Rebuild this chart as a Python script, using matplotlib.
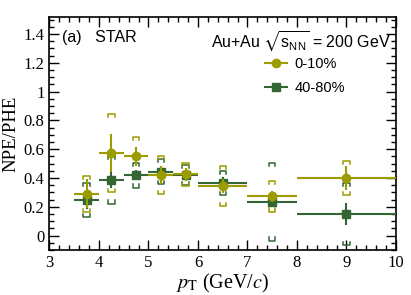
import numpy as np
import matplotlib
matplotlib.use("Agg")
import matplotlib.pyplot as plt
from matplotlib.lines import Line2D
from matplotlib.ticker import MultipleLocator

# Data
pt = [3.75, 4.25, 4.75, 5.25, 5.75, 6.5, 7.5, 9.0]
pt_halfwidth = [0.25, 0.25, 0.25, 0.25, 0.25, 0.5, 0.5, 1.0]

central_0_10 = [0.29, 0.575, 0.55, 0.42, 0.425, 0.345, 0.272, 0.40]
stat_0_10 = [0.10, 0.13, 0.065, 0.065, 0.045, 0.05, 0.04, 0.08]
sys_0_10 = [0.125, 0.27, 0.135, 0.133, 0.08, 0.14, 0.105, 0.12]

central_40_80 = [0.248, 0.387, 0.42, 0.445, 0.42, 0.368, 0.236, 0.15]
stat_40_80 = [0.06, 0.055, 0.035, 0.04, 0.03, 0.04, 0.04, 0.075]
sys_40_80 = [0.12, 0.165, 0.087, 0.088, 0.07, 0.084, 0.27, 0.215]

gold = '#9c9c00'
green = '#336633'

plt.rcParams['mathtext.fontset'] = 'stix'

fig = plt.figure(figsize=(4.11, 2.95), dpi=100)
ax = fig.add_axes([0.1204, 0.1525, 0.8431, 0.7909])


def draw_sys(x, y, s, color):
    # bracket-style systematic error boxes
    w = 0.065
    d = 0.022
    for xi, yi, si in zip(x, y, s):
        top = yi + si
        bot = yi - si
        ax.plot([xi - w, xi - w, xi + w, xi + w], [top - d, top, top, top - d],
                color=color, lw=1.1, zorder=2)
        ax.plot([xi - w, xi - w, xi + w, xi + w], [bot + d, bot, bot, bot + d],
                color=color, lw=1.1, zorder=2)


# 40-80% (drawn first, below)
draw_sys(pt, central_40_80, sys_40_80, green)
ax.errorbar(pt, central_40_80, xerr=pt_halfwidth, yerr=stat_40_80, fmt='s',
            color=green, ms=6, lw=1.5, capsize=0, zorder=3)

# 0-10%
draw_sys(pt, central_0_10, sys_0_10, gold)
ax.errorbar(pt, central_0_10, xerr=pt_halfwidth, yerr=stat_0_10, fmt='o',
            color=gold, ms=6, lw=1.5, capsize=0, zorder=4)

ax.set_xlim(3, 10)
ax.set_ylim(-0.1, 1.52)
ax.xaxis.set_major_locator(MultipleLocator(1))
ax.xaxis.set_minor_locator(MultipleLocator(0.2))
ax.yaxis.set_major_locator(MultipleLocator(0.2))
ax.yaxis.set_minor_locator(MultipleLocator(0.05))
ax.tick_params(which='both', direction='in', top=True, right=True)
ax.tick_params(which='major', length=7, width=1)
ax.tick_params(which='minor', length=3.5, width=1)
for sp in ax.spines.values():
    sp.set_linewidth(1.2)

ytick_vals = [0, 0.2, 0.4, 0.6, 0.8, 1.0, 1.2, 1.4]
ytick_labels = ['0', '0.2', '0.4', '0.6', '0.8', '1', '1.2', '1.4']
ax.set_yticks(ytick_vals)
ax.set_yticklabels(ytick_labels)
for lab in ax.get_xticklabels() + ax.get_yticklabels():
    lab.set_family('Liberation Serif')
    lab.set_fontsize(12)

ax.set_xlabel(r'$p_{\mathrm{T}}$ (GeV/$c$)', family='Liberation Serif', fontsize=14.5,
              labelpad=1)
ax.set_ylabel('NPE/PHE', family='Liberation Serif', fontsize=13.5, labelpad=3)

ax.text(0.035, 0.945, '(a)   STAR', transform=ax.transAxes, ha='left', va='top',
        family='Liberation Sans', fontsize=11.5)
ax.text(0.985, 0.945, r'Au+Au $\sqrt{\mathregular{s_{NN}}}$ = 200 GeV',
        transform=ax.transAxes, ha='right', va='top', family='Liberation Sans',
        fontsize=11.5)

legend_handles = [
    Line2D([], [], color=gold, marker='o', ms=6, lw=1.5),
    Line2D([], [], color=green, marker='s', ms=6, lw=1.5),
]
leg = ax.legend(legend_handles, ['0-10%', '40-80%'], loc='upper left',
                bbox_to_anchor=(0.585, 0.885), frameon=False,
                prop={'family': 'Liberation Sans', 'size': 10.5},
                handlelength=1.5, handletextpad=0.5, labelspacing=0.7)

fig.savefig('out.png', dpi=100)
